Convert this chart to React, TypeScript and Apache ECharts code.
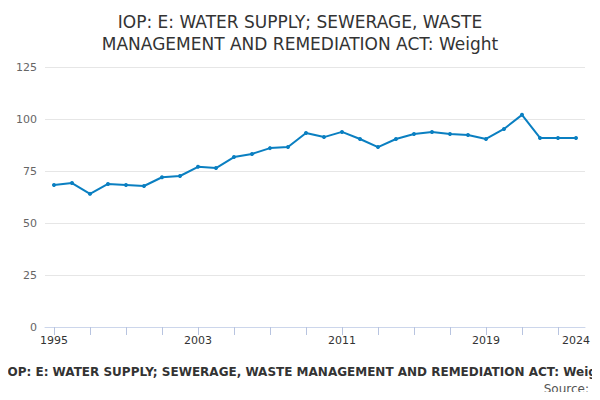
import React, { useEffect, useRef } from "react";
import * as echarts from "echarts";

const years = Array.from({ length: 30 }, (_, i) => String(1995 + i));
const values = [68.3, 69.2, 64, 68.8, 68.3, 67.8, 72, 72.6, 77, 76.4, 81.7, 83.2, 86, 86.5, 93.3, 91.3, 93.8, 90.4, 86.5, 90.4, 92.8, 93.8, 92.8, 92.3, 90.4, 95.2, 102, 90.9, 90.9, 90.9];
const shownLabels = ["1995", "2003", "2011", "2019", "2024"];

export default function App() {
  const ref = useRef<HTMLDivElement>(null);
  useEffect(() => {
    const chart = echarts.init(ref.current!, null, { renderer: "svg" });
    chart.setOption({
      animation: false,
      title: {
        text: "IOP: E: WATER SUPPLY; SEWERAGE, WASTE\nMANAGEMENT AND REMEDIATION ACT: Weight",
        left: "center",
        top: 6,
        textStyle: { fontSize: 17, fontWeight: "normal", color: "#333", lineHeight: 22, fontFamily: "DejaVu Sans" },
      },
      graphic: [
        { type: "text", left: 3, top: 366, style: { text: "IOP: E: WATER SUPPLY; SEWERAGE, WASTE MANAGEMENT AND REMEDIATION ACT: Weight", font: "bold 12px DejaVu Sans", fill: "#333" } },
        { type: "text", right: 11, top: 383, style: { text: "Source:", font: "12px DejaVu Sans", fill: "#555" } },
      ],
      grid: { left: 45, right: 15, top: 67, bottom: 73 },
      xAxis: {
        type: "category",
        data: years,
        boundaryGap: true,
        axisLine: { lineStyle: { color: "#ccd6eb" } },
        axisTick: { show: true, alignWithLabel: true, interval: 1, lineStyle: { color: "#b8c4e0" }, length: 8 },
        axisLabel: {
          interval: (i: number, v: string) => shownLabels.includes(v),
          color: "#333", fontSize: 11, fontFamily: "DejaVu Sans",
        },
      },
      yAxis: {
        type: "value", min: 0, max: 125, interval: 25,
        axisLabel: { color: "#666", fontSize: 11, fontFamily: "DejaVu Sans" },
        splitLine: { lineStyle: { color: "#e6e6e6" } },
      },
      series: [{
        type: "line", data: values, symbol: "circle", symbolSize: 4,
        itemStyle: { color: "#0a7fc1" }, lineStyle: { color: "#0a7fc1", width: 2 },
      }],
    });
    return () => chart.dispose();
  }, []);
  return <div ref={ref} style={{ width: 600, height: 400, margin: -8 }} />;
}
